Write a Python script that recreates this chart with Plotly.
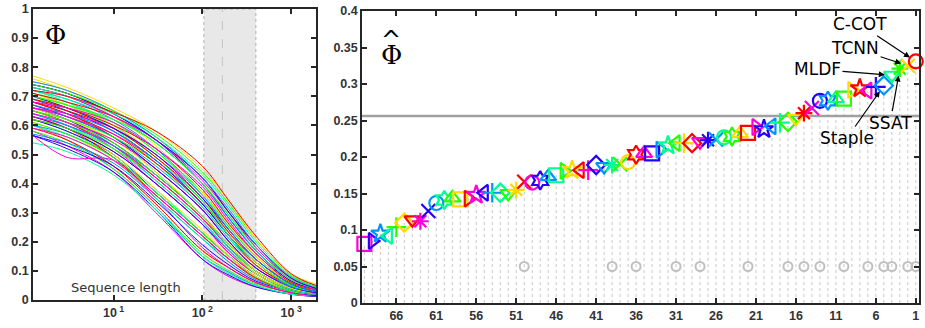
import plotly.graph_objects as go

# ---------------- data ----------------
# Right panel: expected average overlap per rank (rank 1 = best)
RANKS = list(range(1, 71))
EAO = [0.331, 0.325, 0.321, 0.312, 0.298, 0.296, 0.291, 0.294, 0.292, 0.280,
       0.280, 0.277, 0.277, 0.267, 0.260, 0.253, 0.248, 0.247, 0.242, 0.238,
       0.241, 0.233, 0.232, 0.228, 0.227, 0.224, 0.223, 0.221, 0.219, 0.219,
       0.219, 0.216, 0.210, 0.205, 0.205, 0.203, 0.193, 0.190, 0.189, 0.187,
       0.189, 0.182, 0.182, 0.182, 0.181, 0.175, 0.173, 0.168, 0.165, 0.166,
       0.155, 0.150, 0.151, 0.151, 0.151, 0.148, 0.143, 0.142, 0.144, 0.141,
       0.137, 0.126, 0.112, 0.114, 0.110, 0.104, 0.092, 0.095, 0.085, 0.081]
GRAY_RANKS = [50, 39, 36, 31, 28, 22, 17, 15, 13, 10, 7, 5, 4, 2, 1]
GRAY_LEVEL = 0.05
SOTA_BOUND = 0.256
X_TICKS_RIGHT = [66, 61, 56, 51, 46, 41, 36, 31, 26, 21, 16, 11, 6, 1]
Y_TICKS_RIGHT = [0, 0.05, 0.1, 0.15, 0.2, 0.25, 0.3, 0.35, 0.4]
Y_TICKTEXT_RIGHT = ["0", "0.05", "0.1", "0.15", "0.2", "0.25", "0.3", "0.35", "0.4"]

LABELS = {1: "C-COT", 2: "TCNN", 4: "MLDF", 3: "SSAT", 5: "Staple"}
LABEL_POS = {1: (8.0, 0.382), 2: (8.6, 0.349), 4: (13.3, 0.320),
             3: (4.2, 0.247), 5: (9.6, 0.226)}

# Left panel: expected overlap vs. sequence length, one curve per rank
SEQ_LEN = [1.24, 3, 10, 30, 100, 200, 400, 1000, 1900]
CURVES = [
    [0.72, 0.70, 0.645, 0.58, 0.46, 0.34, 0.22, 0.09, 0.05],
    [0.77, 0.73, 0.66, 0.58, 0.45, 0.34, 0.21, 0.09, 0.055],
    [0.74, 0.71, 0.65, 0.57, 0.44, 0.33, 0.21, 0.085, 0.05],
    [0.73, 0.70, 0.64, 0.56, 0.43, 0.32, 0.20, 0.08, 0.045],
    [0.75, 0.72, 0.65, 0.56, 0.42, 0.31, 0.19, 0.08, 0.045],
    [0.74, 0.71, 0.64, 0.55, 0.42, 0.30, 0.19, 0.075, 0.04],
    [0.73, 0.70, 0.63, 0.55, 0.41, 0.30, 0.18, 0.075, 0.04],
    [0.71, 0.68, 0.63, 0.55, 0.42, 0.30, 0.19, 0.08, 0.045],
    [0.76, 0.72, 0.65, 0.56, 0.42, 0.30, 0.18, 0.075, 0.045],
    [0.70, 0.67, 0.62, 0.54, 0.40, 0.29, 0.18, 0.07, 0.04],
    [0.72, 0.69, 0.63, 0.54, 0.40, 0.29, 0.17, 0.07, 0.04],
    [0.73, 0.70, 0.63, 0.54, 0.40, 0.28, 0.17, 0.07, 0.04],
    [0.74, 0.71, 0.64, 0.55, 0.40, 0.28, 0.17, 0.065, 0.04],
    [0.68, 0.66, 0.61, 0.52, 0.39, 0.27, 0.16, 0.065, 0.035],
    [0.69, 0.66, 0.60, 0.52, 0.38, 0.26, 0.16, 0.06, 0.035],
    [0.75, 0.72, 0.63, 0.53, 0.37, 0.26, 0.15, 0.06, 0.035],
    [0.70, 0.67, 0.61, 0.51, 0.37, 0.25, 0.15, 0.06, 0.035],
    [0.71, 0.68, 0.61, 0.51, 0.36, 0.25, 0.15, 0.06, 0.035],
    [0.72, 0.69, 0.62, 0.52, 0.36, 0.24, 0.14, 0.055, 0.03],
    [0.70, 0.66, 0.59, 0.50, 0.35, 0.24, 0.14, 0.055, 0.03],
    [0.66, 0.64, 0.59, 0.50, 0.36, 0.24, 0.14, 0.06, 0.035],
    [0.68, 0.65, 0.59, 0.49, 0.35, 0.23, 0.14, 0.055, 0.03],
    [0.71, 0.67, 0.60, 0.50, 0.35, 0.23, 0.13, 0.055, 0.03],
    [0.69, 0.66, 0.59, 0.49, 0.34, 0.23, 0.13, 0.05, 0.03],
    [0.72, 0.68, 0.60, 0.49, 0.34, 0.22, 0.13, 0.05, 0.03],
    [0.67, 0.64, 0.58, 0.48, 0.34, 0.22, 0.13, 0.05, 0.03],
    [0.69, 0.65, 0.58, 0.48, 0.33, 0.22, 0.13, 0.05, 0.03],
    [0.66, 0.63, 0.57, 0.48, 0.33, 0.22, 0.13, 0.05, 0.03],
    [0.68, 0.64, 0.57, 0.47, 0.33, 0.22, 0.12, 0.05, 0.03],
    [0.70, 0.66, 0.58, 0.47, 0.33, 0.22, 0.12, 0.05, 0.03],
    [0.65, 0.62, 0.56, 0.47, 0.33, 0.22, 0.12, 0.05, 0.03],
    [0.71, 0.67, 0.59, 0.47, 0.32, 0.21, 0.12, 0.05, 0.03],
    [0.66, 0.63, 0.56, 0.46, 0.32, 0.21, 0.12, 0.045, 0.03],
    [0.67, 0.63, 0.56, 0.45, 0.31, 0.20, 0.11, 0.045, 0.025],
    [0.64, 0.61, 0.55, 0.45, 0.31, 0.20, 0.11, 0.045, 0.025],
    [0.68, 0.64, 0.56, 0.45, 0.31, 0.20, 0.11, 0.045, 0.025],
    [0.66, 0.62, 0.55, 0.44, 0.29, 0.19, 0.10, 0.04, 0.025],
    [0.65, 0.61, 0.54, 0.43, 0.29, 0.19, 0.10, 0.04, 0.025],
    [0.70, 0.65, 0.56, 0.44, 0.29, 0.18, 0.10, 0.04, 0.025],
    [0.64, 0.60, 0.53, 0.43, 0.29, 0.18, 0.10, 0.04, 0.025],
    [0.66, 0.62, 0.54, 0.43, 0.29, 0.19, 0.10, 0.04, 0.025],
    [0.63, 0.60, 0.53, 0.42, 0.28, 0.18, 0.10, 0.04, 0.025],
    [0.65, 0.61, 0.53, 0.42, 0.28, 0.18, 0.10, 0.04, 0.025],
    [0.67, 0.63, 0.54, 0.42, 0.28, 0.18, 0.09, 0.04, 0.025],
    [0.62, 0.59, 0.52, 0.42, 0.28, 0.18, 0.09, 0.04, 0.025],
    [0.64, 0.60, 0.52, 0.41, 0.27, 0.17, 0.09, 0.035, 0.02],
    [0.66, 0.62, 0.53, 0.41, 0.27, 0.17, 0.09, 0.035, 0.02],
    [0.63, 0.59, 0.51, 0.40, 0.26, 0.17, 0.09, 0.035, 0.02],
    [0.65, 0.61, 0.52, 0.40, 0.26, 0.16, 0.09, 0.035, 0.02],
    [0.62, 0.59, 0.51, 0.40, 0.26, 0.16, 0.09, 0.035, 0.02],
    [0.63, 0.59, 0.50, 0.38, 0.24, 0.15, 0.08, 0.035, 0.02],
    [0.61, 0.57, 0.49, 0.37, 0.23, 0.15, 0.08, 0.03, 0.02],
    [0.64, 0.60, 0.50, 0.38, 0.23, 0.15, 0.08, 0.03, 0.02],
    [0.60, 0.57, 0.49, 0.37, 0.23, 0.15, 0.08, 0.03, 0.02],
    [0.62, 0.58, 0.50, 0.37, 0.23, 0.15, 0.08, 0.03, 0.02],
    [0.59, 0.56, 0.48, 0.36, 0.22, 0.14, 0.08, 0.03, 0.02],
    [0.63, 0.59, 0.49, 0.36, 0.22, 0.14, 0.075, 0.03, 0.02],
    [0.61, 0.57, 0.48, 0.36, 0.22, 0.14, 0.075, 0.03, 0.02],
    [0.62, 0.58, 0.49, 0.36, 0.22, 0.14, 0.075, 0.03, 0.02],
    [0.60, 0.56, 0.48, 0.35, 0.21, 0.14, 0.075, 0.03, 0.02],
    [0.57, 0.54, 0.47, 0.35, 0.21, 0.13, 0.07, 0.03, 0.02],
    [0.565, 0.53, 0.46, 0.34, 0.19, 0.12, 0.065, 0.03, 0.015],
    [0.565, 0.49, 0.48, 0.35, 0.18, 0.11, 0.06, 0.025, 0.015],
    [0.59, 0.55, 0.46, 0.33, 0.17, 0.11, 0.06, 0.025, 0.015],
    [0.60, 0.55, 0.46, 0.33, 0.17, 0.11, 0.06, 0.025, 0.015],
    [0.58, 0.54, 0.45, 0.32, 0.16, 0.10, 0.055, 0.025, 0.015],
    [0.54, 0.51, 0.43, 0.31, 0.15, 0.09, 0.05, 0.02, 0.015],
    [0.60, 0.55, 0.45, 0.32, 0.15, 0.095, 0.05, 0.02, 0.015],
    [0.565, 0.52, 0.44, 0.31, 0.14, 0.085, 0.045, 0.02, 0.012],
    [0.58, 0.53, 0.44, 0.30, 0.14, 0.08, 0.045, 0.02, 0.012],
]
BAND_LOW, BAND_PEAK, BAND_HIGH = 104, 168, 400
X_TICKS_LEFT = [10, 100, 1000]
X_TICKTEXT_LEFT = ["10<sup> 1</sup>", "10<sup> 2</sup>", "10<sup> 3</sup>"]
Y_TICKS_LEFT = [0, 0.1, 0.2, 0.3, 0.4, 0.5, 0.6, 0.7, 0.8, 0.9, 1]
Y_TICKTEXT_LEFT = ["0", "0.1", "0.2", "0.3", "0.4", "0.5", "0.6", "0.7", "0.8", "0.9", "1"]

# styles
COLORS = ["#ff0000", "#ffd900", "#25ff00", "#00ff92", "#0092ff", "#2500ff", "#ff00db"]
SYMBOLS = ["circle-open", "x-thin-open", "asterisk-open", "triangle-down-open",
           "diamond-open", "cross-thin-open", "triangle-left-open", "star-open",
           "triangle-right-open", "square-open", "triangle-up-open", "hexagram-open"]

def color_of(r):
    return COLORS[(r - 1) % len(COLORS)]

def symbol_of(r):
    return SYMBOLS[(r - 1) % len(SYMBOLS)]

fig = go.Figure()

# ---------------- left panel ----------------
for r in reversed(RANKS):
    fig.add_trace(go.Scatter(
        x=SEQ_LEN, y=CURVES[r - 1], mode="lines", xaxis="x", yaxis="y",
        line=dict(color=color_of(r), width=1, shape="spline", smoothing=1.0),
        showlegend=False, hoverinfo="skip"))

# ---------------- right panel ----------------
gx, gy = [], []
for r, v in zip(RANKS, EAO):
    gx += [r, r, None]
    gy += [0, v, None]
fig.add_trace(go.Scatter(x=gx, y=gy, mode="lines", xaxis="x2", yaxis="y2",
                         line=dict(color="#c8c8c8", width=1, dash="dot"),
                         showlegend=False, hoverinfo="skip"))
fig.add_trace(go.Scatter(x=[70.3, 0.6], y=[SOTA_BOUND, SOTA_BOUND], mode="lines",
                         xaxis="x2", yaxis="y2",
                         line=dict(color="#a0a0a0", width=2.5),
                         showlegend=False, hoverinfo="skip"))
fig.add_trace(go.Scatter(x=GRAY_RANKS, y=[GRAY_LEVEL] * len(GRAY_RANKS), mode="markers",
                         xaxis="x2", yaxis="y2",
                         marker=dict(symbol="circle-open", size=9, color="#c0c0c0",
                                     line=dict(width=2, color="#c0c0c0")),
                         showlegend=False, hoverinfo="skip"))
order = list(reversed(RANKS))
fig.add_trace(go.Scatter(
    x=order, y=[EAO[r - 1] for r in order], mode="markers", xaxis="x2", yaxis="y2",
    marker=dict(symbol=[symbol_of(r) for r in order], size=14,
                color=[color_of(r) for r in order],
                line=dict(width=2.2, color=[color_of(r) for r in order])),
    showlegend=False, cliponaxis=False))

axis_common = dict(showline=True, linecolor="#262626", linewidth=1.5, mirror="ticks",
                   ticks="inside", ticklen=5, tickcolor="#262626", tickwidth=1.5,
                   showgrid=False, zeroline=False, automargin=False,
                   tickfont=dict(family="Liberation Sans, Arial", size=12.5,
                                 color="#333333", weight="bold"))

fig.update_layout(
    template="none",
    width=925, height=328, margin=dict(l=0, r=0, t=0, b=0, pad=0),
    paper_bgcolor="white", plot_bgcolor="white", showlegend=False,
    xaxis=dict(domain=[33 / 925, 316 / 925], type="log",
               range=[0.0934, 3.279], tickvals=X_TICKS_LEFT,
               ticktext=X_TICKTEXT_LEFT, anchor="y", **axis_common),
    yaxis=dict(domain=[28 / 328, 319 / 328], range=[0, 1], anchor="x",
               tickvals=Y_TICKS_LEFT, ticktext=Y_TICKTEXT_LEFT, **axis_common),
    xaxis2=dict(domain=[362 / 925, 919 / 925], range=[70.3, 0.6],
                tickvals=X_TICKS_RIGHT, ticktext=[str(t) for t in X_TICKS_RIGHT],
                anchor="y2", **axis_common),
    yaxis2=dict(domain=[25 / 328, 317 / 328], range=[0, 0.4], anchor="x2",
                tickvals=Y_TICKS_RIGHT, ticktext=Y_TICKTEXT_RIGHT, **axis_common),
)

# gray band for typical sequence length range
fig.add_shape(type="rect", xref="x", yref="y", x0=BAND_LOW, x1=BAND_HIGH, y0=0, y1=1,
              fillcolor="#e8e8e8", line=dict(color="#b0b0b0", width=1, dash="dot"),
              layer="below")
fig.add_shape(type="line", xref="x", yref="y", x0=BAND_PEAK, x1=BAND_PEAK, y0=0, y1=1,
              line=dict(color="#c4c4c4", width=1, dash="dash"), layer="below")

def paper_text(text, px, py, size, family, color="black"):
    return dict(text=text, x=px / 925, y=1 - py / 328, xref="paper", yref="paper",
                xanchor="center", yanchor="middle", showarrow=False,
                font=dict(family=family, size=size, color=color))

annos = [
    paper_text("Sequence length", 126, 287, 13, "DejaVu Sans", "#333333"),
    paper_text("Φ", 55, 35, 26, "DejaVu Serif"),
    paper_text("Φ", 391, 55, 26, "DejaVu Serif"),
    paper_text("^", 391, 40, 24, "DejaVu Sans"),
]
for r, name in LABELS.items():
    tx, ty = LABEL_POS[r]
    annos.append(dict(text=name, x=r, y=EAO[r - 1], xref="x2", yref="y2",
                      ax=tx, ay=ty, axref="x2", ayref="y2", showarrow=True,
                      arrowhead=2, arrowsize=1, arrowwidth=1.2, arrowcolor="black",
                      standoff=7,
                      font=dict(family="DejaVu Sans", size=17, color="black")))
fig.update_layout(annotations=annos)

fig.write_html("out.html", config={"responsive": False, "displayModeBar": False},
               post_script="document.body.style.margin='0';document.body.style.overflow='hidden';")
